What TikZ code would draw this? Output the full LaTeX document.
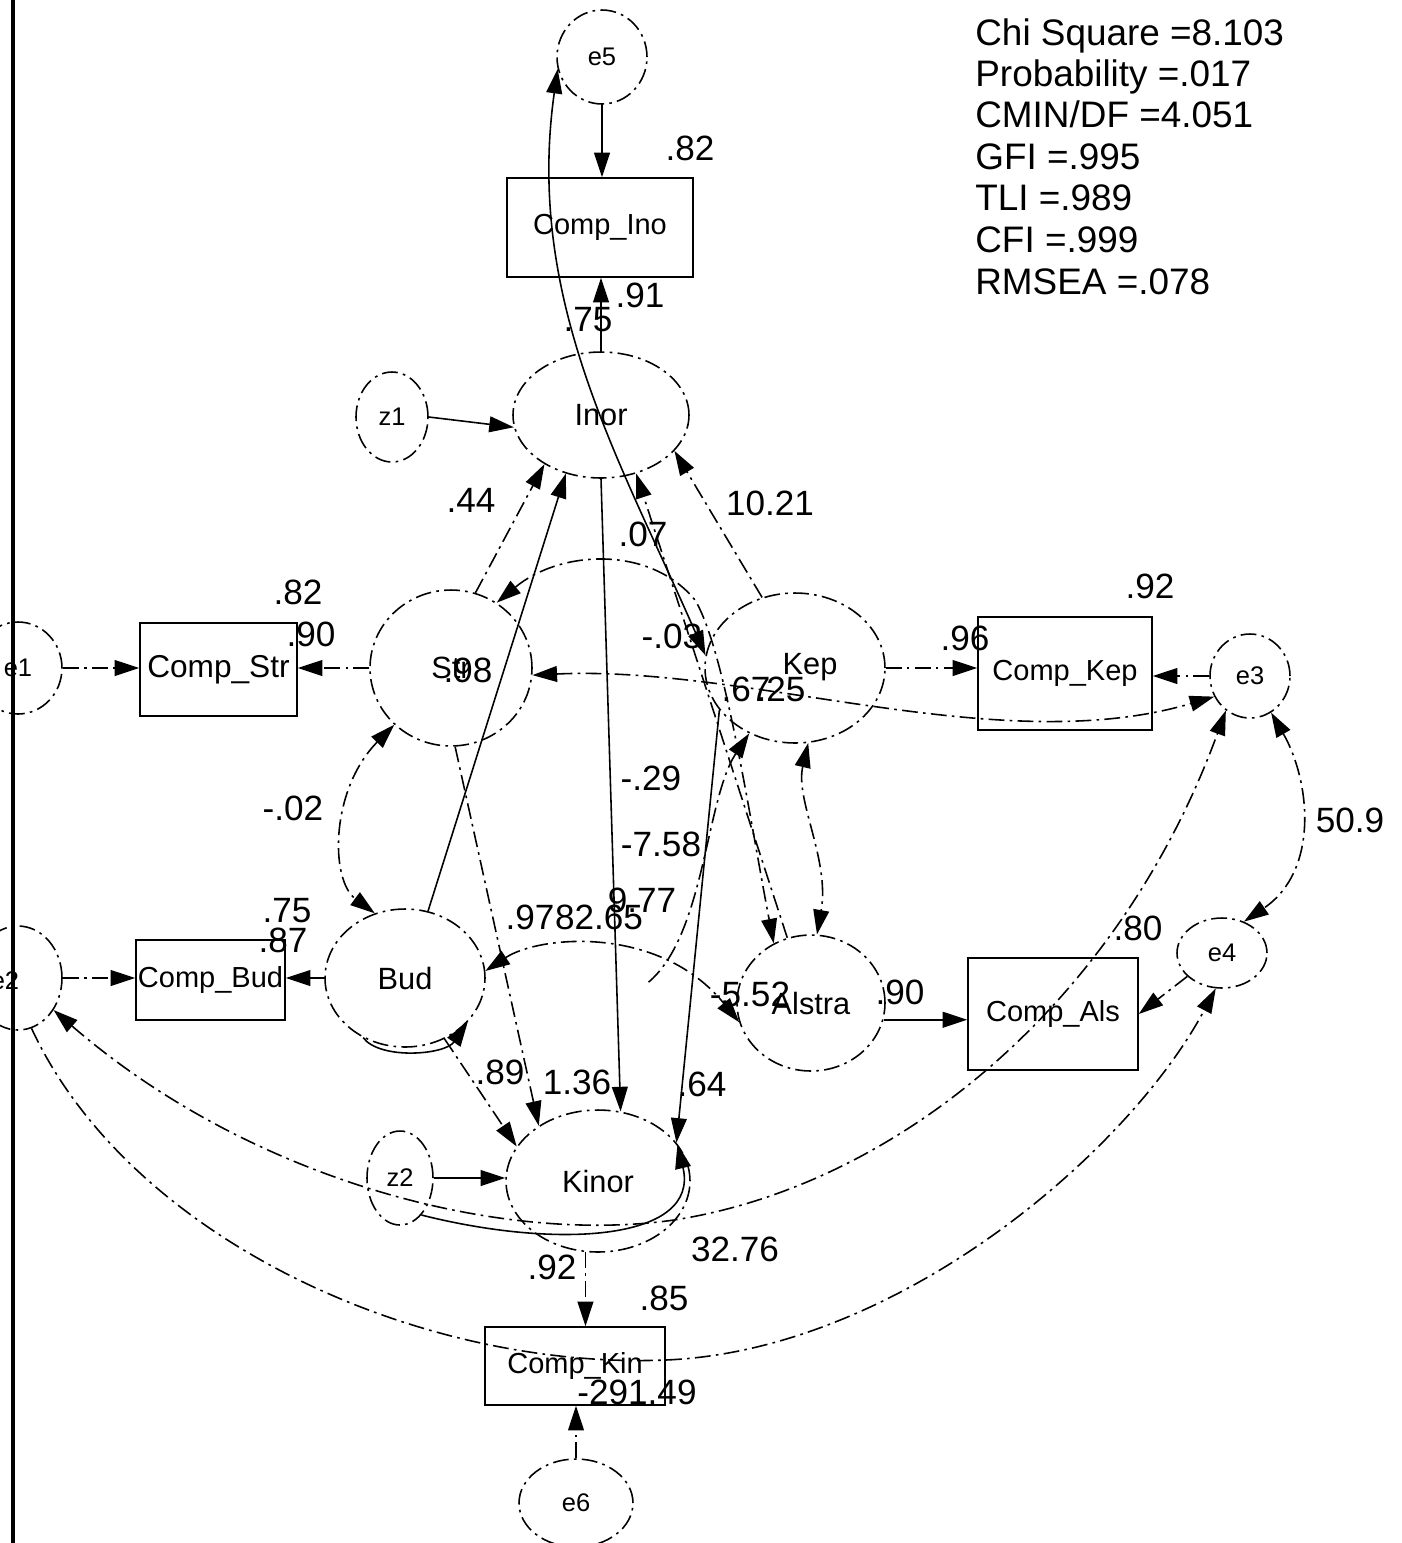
\documentclass[tikz,border=0pt]{standalone}
\usepackage{fontspec}
\setmainfont{Liberation Sans}
\usetikzlibrary{arrows.meta,shapes.geometric}
\begin{document}
\begin{tikzpicture}[x=0.02cm,y=-0.02cm,
  >={Triangle[length=14pt,width=9pt]},
  ln/.style={line width=0.9pt},
  dd/.style={line width=0.9pt,dash pattern=on 9pt off 3pt on 1.5pt off 3pt},
  lat/.style={ellipse,draw,dd,inner sep=0pt,font=\fontsize{17.5}{20}\selectfont},
  err/.style={ellipse,draw,dd,inner sep=0pt,font=\fontsize{14.5}{17}\selectfont},
  obs/.style={rectangle,draw,line width=0.9pt,inner sep=0pt,font=\fontsize{16.5}{19}\selectfont},
  num/.style={inner sep=0pt,font=\fontsize{20}{24}\selectfont},
  txt/.style={inner sep=0pt},
  stat/.style={inner sep=0pt,anchor=base west,font=\fontsize{21}{25}\selectfont}]
\useasboundingbox (0,0) rectangle (1401,1543);
\fill[white] (0,0) rectangle (1401,1543);

% nodes
\node[err,minimum width=1.8cm,minimum height=1.88cm] (e5) at (602,57) {e5};
\node[obs,minimum width=3.72cm,minimum height=1.98cm] (CompIno) at (600,227.5) {Comp\_Ino};
\node[lat,minimum width=3.52cm,minimum height=2.52cm] (Inor) at (601,415) {Inor};
\node[err,minimum width=1.44cm,minimum height=1.8cm] (z1) at (392,417) {z1};
\node[lat,minimum width=3.24cm,minimum height=3.12cm] (Str) at (451,668) {Str};
\node[lat,minimum width=3.6cm,minimum height=3.0cm] (Kep) at (795,668) {};
\node[txt,font=\fontsize{17.5}{20}\selectfont] (Keptxt) at (810,667) {Kep};
\node[obs,minimum width=3.14cm,minimum height=1.86cm,font=\fontsize{18}{21}\selectfont] (CompStr) at (218.5,669.5) {Comp\_Str};
\node[err,minimum width=1.76cm,minimum height=1.84cm] (e1) at (18,668) {e1};
\node[obs,minimum width=3.48cm,minimum height=2.26cm] (CompKep) at (1065,673.5) {Comp\_Kep};
\node[err,minimum width=1.6cm,minimum height=1.68cm] (e3) at (1250,676) {e3};
\node[lat,minimum width=3.2cm,minimum height=2.76cm] (Bud) at (405,978) {Bud};
\node[obs,minimum width=2.98cm,minimum height=1.6cm] (CompBud) at (210.5,980) {Comp\_Bud};
\node[err,minimum width=1.76cm,minimum height=2.08cm] (e2) at (18,978) {};
\node[txt,font=\fontsize{14.5}{17}\selectfont] (e2txt) at (5,981) {e2};
\node[lat,minimum width=2.96cm,minimum height=2.72cm] (Alstra) at (811,1003) {Alstra};
\node[obs,minimum width=3.4cm,minimum height=2.24cm] (CompAls) at (1053,1014) {Comp\_Als};
\node[err,minimum width=1.8cm,minimum height=1.4cm] (e4) at (1222,953) {e4};
\node[lat,minimum width=3.68cm,minimum height=2.84cm] (Kinor) at (598,1181) {Kinor};
\node[err,minimum width=1.32cm,minimum height=1.88cm] (z2) at (400,1178) {z2};
\node[obs,minimum width=3.6cm,minimum height=1.56cm] (CompKin) at (575,1366) {Comp\_Kin};
\node[err,minimum width=2.28cm,minimum height=1.76cm] (e6) at (576,1503) {e6};

% left border
\draw[line width=2.3pt] (13,0) -- (13,1543);

% single-headed paths
\draw[ln,->] (e5.south) -- (e5.south |- CompIno.north);
\draw[ln,->] (Inor.north) -- (Inor.north |- CompIno.south);
\draw[ln,->] (z1.east) -- (Inor.188);
\draw[dd,->] (Str.72) -- (Inor.221);
\draw[ln,->] (Bud.71) -- (Inor.239);
\draw[ln,->] (Inor.south) -- (Kinor.72);
\draw[dd,->] (Kep.115) -- (Inor.334);
\draw[dd,->] (Alstra.110) -- (Inor.301);
\draw[dd,->] (Str.273) -- (Kinor.137);
\draw[ln,->] (Kep.209) -- (Kinor.26);
\draw[dd,->] (Bud.303) -- (Kinor.157);
\draw[dd,->] (Kep.east) -- (Kep.east -| CompKep.west);
\draw[dd,->] (e3.west) -- (e3.west -| CompKep.east);
\draw[ln,->] (Alstra.-13) -- (Alstra.-13 -| CompAls.west);
\draw[dd,->] (e4.214) -- (CompAls.east);
\draw[dd,->] (Str.west) -- (Str.west -| CompStr.east);
\draw[dd,->] (e1.east) -- (e1.east -| CompStr.west);
\draw[ln,->] (Bud.west) -- (Bud.west -| CompBud.east);
\draw[dd,->] (e2.east) -- (e2.east -| CompBud.west);
\draw[ln,->] (z2.east) -- (z2.east -| Kinor.west);
\draw[dd,->] (Kinor.260) -- (Kinor.260 |- CompKin.north);
\draw[dd,->] (e6.north) -- (e6.north |- CompKin.south);

% curved connectors
\draw[ln,<->] (e5.195) .. controls (525,300) and (620,460) .. (Kep.172);
\draw[dd,<->] (Str.55) .. controls (560,550) and (650,545) .. (695,600) .. controls (725,650) and (750,820) .. (Alstra.122);
\draw[dd,<->] (Str.225) .. controls (330,790) and (330,880) .. (Bud.115);
\draw[dd,<->] (Kep.-80) .. controls (795,800) and (830,860) .. (Alstra.85);
\draw[dd,<->] (Str.-5) .. controls (750,665) and (1000,760) .. (e3.210);
\draw[dd,<->] (e3.-60) .. controls (1310,780) and (1320,870) .. (e4.55);
\draw[dd,<->] (Bud.5) .. controls (540,935) and (660,925) .. (Alstra.195);
\coordinate (c8end) at (645,985);
\draw[dd,<-] (Kep.235) .. controls (705,800) and (705,940) .. (c8end);
\draw[ln,->] (Bud.235) .. controls (380,1060) and (445,1055) .. (Bud.-35);
\draw[ln,->] (z2.-60) .. controls (560,1250) and (700,1240) .. (Kinor.25);
\draw[dd,<->] (e2.-42) .. controls (250,1180) and (500,1245) .. (674,1220) .. controls (900,1185) and (1120,1000) .. (e3.235);
\draw[dd,->] (e2.-75) .. controls (130,1240) and (420,1370) .. (666,1360) .. controls (900,1350) and (1130,1150) .. (e4.-100);

% estimates
\node[num] (l1) at (690,148) {.82};
\node[num] (l2) at (640,295) {.91};
\node[num] (l3) at (588,320) {.75};
\node[num] (l4) at (471,500) {.44};
\node[num] (l5) at (770,503) {10.21};
\node[num] (l6) at (643,534) {.07};
\node[num] (l7) at (298,592) {.82};
\node[num] (l8) at (311,634) {.90};
\node[num] (l9) at (468,670) {.98};
\node[num] (l10) at (672,636) {-.03};
\node[num] (l11) at (746,689) {.67};
\node[num] (l12) at (781,689) {.25};
\node[num] (l13) at (1150,586) {.92};
\node[num] (l14) at (965,638) {.96};
\node[num] (l15) at (1350,820) {50.9};
\node[num] (l16) at (651,778) {-.29};
\node[num] (l17) at (661,844) {-7.58};
\node[num] (l18) at (293,808) {-.02};
\node[num] (l19) at (287,911) {.75};
\node[num] (l20) at (283,940) {.87};
\node[num] (l21) at (1138,928) {.80};
\node[num] (l22) at (530,917) {.97};
\node[num] (l23) at (599,917) {82.65};
\node[num] (l24) at (642,900) {9.77};
\node[num] (l25) at (750,994) {-5.52};
\node[num] (l26) at (900,992) {.90};
\node[num] (l27) at (500,1072) {.89};
\node[num] (l28) at (577,1082) {1.36};
\node[num] (l29) at (702,1084) {.64};
\node[num] (l30) at (735,1249) {32.76};
\node[num] (l31) at (552,1267) {.92};
\node[num] (l32) at (664,1298) {.85};
\node[num] (l33) at (637,1392) {-291.49};

% fit statistics
\node[stat] (s1) at (975,45) {Chi Square =8.103};
\node[stat] (s2) at (975,86) {Probability =.017};
\node[stat] (s3) at (975,127) {CMIN/DF =4.051};
\node[stat] (s4) at (975,169) {GFI =.995};
\node[stat] (s5) at (975,210) {TLI =.989};
\node[stat] (s6) at (975,252) {CFI =.999};
\node[stat] (s7) at (975,294) {RMSEA =.078};
\end{tikzpicture}
\end{document}
